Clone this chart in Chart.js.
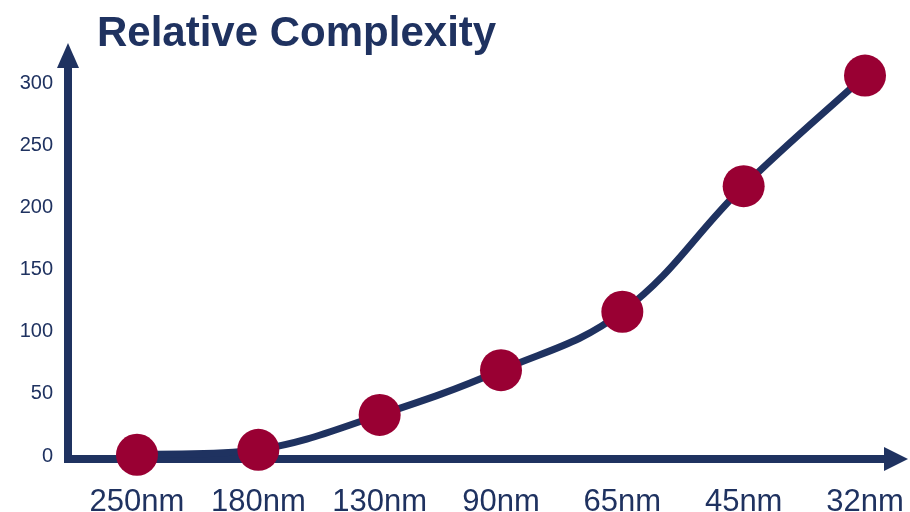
<!DOCTYPE html>
<html>
<head>
<meta charset="utf-8">
<script src="https://cdn.jsdelivr.net/npm/chart.js@4/dist/chart.umd.min.js"></script>
<style>
  html, body { margin: 0; padding: 0; background: #ffffff; }
  #wrap { width: 910px; height: 512px; position: relative; }
</style>
</head>
<body>
<div id="wrap"><canvas id="grafico"></canvas></div>
<script>
// Datos del gráfico
const titulo = 'Relative Complexity';
const nodos = ['250nm', '180nm', '130nm', '90nm', '65nm', '45nm', '32nm'];
const complejidad = [1, 5, 33, 69, 116, 217, 306];
const marcasY = [0, 50, 100, 150, 200, 250, 300];

const azul = '#1f3260';
const granate = '#990033';

// Ejes con flechas y título dibujados a mano
const ejesFlecha = {
  id: 'ejesFlecha',
  beforeDatasetsDraw(chart) {
    const ctx = chart.ctx;
    const a = chart.chartArea;
    const y0 = chart.scales.y.getPixelForValue(0) + 3;
    const x0 = a.left - 69;
    ctx.save();
    ctx.strokeStyle = azul;
    ctx.fillStyle = azul;
    ctx.lineWidth = 8;
    ctx.lineCap = 'butt';
    // eje vertical
    ctx.beginPath();
    ctx.moveTo(x0, y0 + 4);
    ctx.lineTo(x0, a.top - 16);
    ctx.stroke();
    ctx.beginPath();
    ctx.moveTo(x0 - 11, a.top - 15);
    ctx.lineTo(x0 + 11, a.top - 15);
    ctx.lineTo(x0, a.top - 40);
    ctx.closePath();
    ctx.fill();
    // eje horizontal
    ctx.beginPath();
    ctx.moveTo(x0 - 4, y0);
    ctx.lineTo(a.right + 20, y0);
    ctx.stroke();
    ctx.beginPath();
    ctx.moveTo(a.right + 19, y0 - 12);
    ctx.lineTo(a.right + 19, y0 + 12);
    ctx.lineTo(a.right + 43, y0);
    ctx.closePath();
    ctx.fill();
    // título
    ctx.font = 'bold 42px "Liberation Sans", Arial, sans-serif';
    ctx.textAlign = 'left';
    ctx.textBaseline = 'alphabetic';
    ctx.fillText(titulo, 97, 46);
    ctx.restore();
  }
};

const grafico = new Chart(document.getElementById('grafico'), {
  type: 'line',
  data: {
    labels: nodos,
    datasets: [{
      label: titulo,
      data: complejidad,
      borderColor: azul,
      borderWidth: 7,
      tension: 0.4,
      fill: false,
      pointRadius: 21,
      pointHoverRadius: 21,
      pointBackgroundColor: granate,
      pointBorderColor: granate,
      pointBorderWidth: 0,
      clip: false
    }]
  },
  options: {
    responsive: true,
    maintainAspectRatio: false,
    animation: false,
    layout: { autoPadding: false, padding: { left: 0, top: 83, right: 45, bottom: 0 } },
    plugins: {
      legend: { display: false },
      tooltip: { enabled: false },
      title: { display: false }
    },
    scales: {
      x: {
        type: 'category',
        offset: false,
        grid: { display: false, drawTicks: false },
        border: { display: false },
        ticks: {
          color: azul,
          padding: 28,
          maxRotation: 0,
          autoSkip: false,
          font: { family: '"Liberation Sans", Arial, sans-serif', size: 31 }
        },
        // sin relleno extra por las etiquetas de los extremos
        afterFit(scale) {
          scale.height = 56;
          scale.paddingLeft = 0;
          scale.paddingRight = 0;
        }
      },
      y: {
        min: 0,
        max: 300,
        grid: { display: false, drawTicks: false },
        border: { display: false },
        afterBuildTicks(scale) { scale.ticks = marcasY.map(v => ({ value: v })); },
        ticks: {
          color: azul,
          padding: 84,
          font: { family: '"Liberation Sans", Arial, sans-serif', size: 20 }
        },
        afterFit(scale) {
          scale.width = 137;
          scale.paddingTop = 0;
          scale.paddingBottom = 0;
        }
      }
    }
  },
  plugins: [ejesFlecha]
});
</script>
</body>
</html>
